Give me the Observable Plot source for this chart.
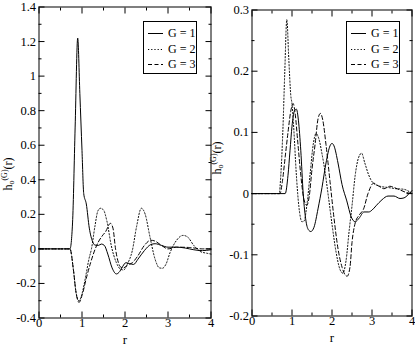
<!DOCTYPE html>
<html><head><meta charset="utf-8">
<script src="https://cdn.jsdelivr.net/npm/d3@7"></script>
<script src="https://cdn.jsdelivr.net/npm/@observablehq/plot@0.6"></script>
<style>
body{margin:0;background:#fff;font-family:"Liberation Serif",serif;}
#wrap{position:relative;width:415px;height:346px;overflow:hidden;background:#fff;}
.panel{position:absolute;top:0;}
.ylab{position:absolute;font-size:12px;white-space:nowrap;transform-origin:center center;transform:translate(-50%,-50%) rotate(-90deg);line-height:1;}
.ylab sub{font-size:8px;vertical-align:-2px;}
.ylab sup{font-size:8px;vertical-align:5px;}
.legend{position:absolute;border:1px solid #000;background:#fff;box-sizing:border-box;font-size:12px;}
.legend .row{position:absolute;left:0;height:14px;}
.legend svg{position:absolute;left:4px;top:0;}
.legend span{position:absolute;left:24px;top:0;line-height:14px;white-space:nowrap;}
</style></head><body><div id="wrap"></div>
<script>
// ---------- data ----------
const seriesNames = ["G = 1", "G = 2", "G = 3"];
const seriesDash = ["none", "1.2,2", "4,2.5"];

// left panel
const leftR1 = [0,0.5,0.72,0.78,0.84,0.9,0.95,1.0,1.04,1.1,1.17,1.25,1.3,1.38,1.45,1.52,1.6,1.7,1.8,1.88,1.95,2.02,2.1,2.2,2.3,2.45,2.6,2.7,2.85,3.0,3.2,3.4,3.6,3.8,4.0];
const leftH1 = [0,0,0,0.15,0.7,1.22,0.9,0.57,0.32,0.26,0.12,0.04,0.022,0.02,0.028,0.02,-0.03,-0.11,-0.145,-0.13,-0.1,-0.08,-0.085,-0.09,-0.06,-0.01,0.025,0.03,0.02,0.01,0.01,0.005,-0.005,-0.01,-0.005];
const leftR2 = [0,0.5,0.72,0.8,0.86,0.93,1.0,1.1,1.16,1.22,1.3,1.37,1.43,1.5,1.58,1.68,1.8,1.9,1.97,2.05,2.17,2.27,2.38,2.47,2.58,2.7,2.8,2.87,2.95,3.05,3.2,3.35,3.45,3.6,3.75,3.9,4.0];
const leftH2 = [0,0,0,-0.12,-0.25,-0.3,-0.26,-0.14,-0.06,0.0,0.13,0.22,0.235,0.225,0.16,0.02,-0.08,-0.118,-0.122,-0.09,-0.01,0.13,0.235,0.2,0.07,-0.06,-0.11,-0.112,-0.09,-0.02,0.05,0.078,0.07,0.02,-0.015,-0.025,-0.03];
const leftR3 = [0,0.5,0.72,0.8,0.86,0.93,1.0,1.1,1.2,1.3,1.38,1.47,1.55,1.66,1.72,1.78,1.9,1.97,2.05,2.17,2.3,2.45,2.6,2.7,2.85,3.0,3.2,3.5,3.8,4.0];
const leftH3 = [0,0,0,-0.12,-0.25,-0.31,-0.27,-0.17,-0.08,-0.005,0.04,0.075,0.1,0.148,0.12,0.0,-0.105,-0.11,-0.095,-0.08,-0.04,0.02,0.05,0.045,0.02,0.0,0.01,0.008,0.0,0.0];

// right panel
const rightR1 = [0,0.5,0.83,0.9,0.95,1.0,1.06,1.11,1.16,1.22,1.28,1.35,1.42,1.47,1.55,1.65,1.75,1.85,1.95,2.0,2.05,2.15,2.25,2.37,2.48,2.58,2.68,2.8,2.92,3.0,3.1,3.25,3.4,3.55,3.7,3.8,3.9,4.0];
const rightH1 = [0,0,0,0.03,0.07,0.11,0.135,0.138,0.12,0.07,0.0,-0.045,-0.06,-0.062,-0.055,-0.025,0.01,0.05,0.078,0.082,0.078,0.05,0.015,-0.012,-0.038,-0.046,-0.04,-0.03,-0.03,-0.027,-0.02,-0.01,-0.004,-0.004,-0.008,-0.007,-0.002,0.005];
const rightR2 = [0,0.5,0.68,0.72,0.77,0.82,0.87,0.92,0.97,1.0,1.05,1.1,1.17,1.25,1.3,1.37,1.45,1.53,1.6,1.67,1.75,1.83,1.9,2.0,2.1,2.2,2.27,2.35,2.43,2.5,2.58,2.66,2.74,2.82,2.92,3.02,3.2,3.4,3.6,3.8,4.0];
const rightH2 = [0,0,0,0.03,0.1,0.2,0.284,0.22,0.16,0.147,0.1,0.04,-0.02,-0.046,-0.045,-0.02,0.03,0.08,0.098,0.09,0.065,0.034,0.0,-0.05,-0.095,-0.124,-0.13,-0.11,-0.06,-0.02,0.03,0.058,0.066,0.05,0.03,0.018,0.012,0.01,0.008,0.007,0.0];
const rightR3 = [0,0.5,0.7,0.76,0.83,0.9,0.97,1.03,1.08,1.15,1.22,1.3,1.37,1.43,1.5,1.58,1.65,1.71,1.77,1.85,1.95,2.05,2.15,2.25,2.33,2.38,2.45,2.5,2.58,2.68,2.79,2.9,3.04,3.15,3.3,3.45,3.55,3.7,3.85,4.0];
const rightH3 = [0,0,0,0.02,0.06,0.1,0.135,0.147,0.13,0.08,0.03,-0.01,-0.019,-0.005,0.04,0.082,0.122,0.131,0.12,0.08,0.02,-0.04,-0.09,-0.12,-0.133,-0.135,-0.12,-0.08,-0.048,-0.035,-0.025,0.0,0.017,0.013,0.008,0.012,0.01,0.006,0.002,0.0];

// ticks
const xMajor = [0,1,2,3,4];
const xMinor = [0.5,1.5,2.5,3.5];
const leftYMajor = [-0.4,-0.2,0,0.2,0.4,0.6,0.8,1,1.2,1.4];
const leftYMinor = [-0.3,-0.1,0.1,0.3,0.5,0.7,0.9,1.1,1.3];
const rightYMajor = [-0.2,-0.1,0,0.1,0.2,0.3];
const rightYMinor = [-0.15,-0.05,0.05,0.15,0.25];
const xLabel = "r";

function fmt(d){ return String(+d.toFixed(2)); }

function panel(o){
  const series = [[o.r1,o.h1],[o.r2,o.h2],[o.r3,o.h3]];
  const lines = series.map(([R,H],k)=>Plot.line(R.map((r,i)=>({r, h:H[i]})),
      {x:"r", y:"h", stroke:"#000", strokeWidth:1, strokeDasharray: seriesDash[k] === "none" ? undefined : seriesDash[k], curve:"monotone-x"}));
  const blank = ()=>"";
  return Plot.plot({
    width:o.width, height:346,
    marginLeft:o.ml, marginRight:o.mr, marginTop:o.mt, marginBottom:o.mb,
    style:{fontFamily:"Liberation Serif, serif", fontSize:"12.5px", background:"transparent", overflow:"visible", color:"#000"},
    x:{domain:[0,4]},
    y:{domain:o.yDomain},
    marks:[
      ...lines,
      // labels
      Plot.axisX({anchor:"bottom", ticks:xMajor, tickSize:0, tickPadding:0, tickFormat:fmt, label:null}),
      Plot.axisY({anchor:"left", ticks:o.yMajor, tickSize:0, tickPadding:3, tickFormat:fmt, label:null}),
      // inward ticks on all sides
      Plot.axisX({anchor:"bottom", ticks:xMajor, tickSize:-6, tickFormat:blank, label:null}),
      Plot.axisX({anchor:"bottom", ticks:xMinor, tickSize:-3, tickFormat:blank, label:null}),
      Plot.axisX({anchor:"top", ticks:xMajor, tickSize:-6, tickFormat:blank, label:null}),
      Plot.axisX({anchor:"top", ticks:xMinor, tickSize:-3, tickFormat:blank, label:null}),
      Plot.axisY({anchor:"left", ticks:o.yMajor, tickSize:-6, tickFormat:blank, label:null}),
      Plot.axisY({anchor:"left", ticks:o.yMinor, tickSize:-3, tickFormat:blank, label:null}),
      Plot.axisY({anchor:"right", ticks:o.yMajor, tickSize:-6, tickFormat:blank, label:null}),
      Plot.axisY({anchor:"right", ticks:o.yMinor, tickSize:-3, tickFormat:blank, label:null}),
      Plot.frame({stroke:"#000", strokeWidth:1}),
      Plot.text([xLabel], {frameAnchor:"bottom", dy:22, text:d=>d, fontSize:13, lineAnchor:"middle"})
    ]
  });
}

const wrap = document.getElementById("wrap");

const left = panel({width:212, ml:38.5, mr:1.5, mt:6.5, mb:28.5, yDomain:[-0.4,1.4],
  yMajor:leftYMajor, yMinor:leftYMinor,
  r1:leftR1,h1:leftH1,r2:leftR2,h2:leftH2,r3:leftR3,h3:leftH3});
left.classList.add("panel"); left.style.left="0px";
wrap.appendChild(left);

const right = panel({width:203, ml:39.5, mr:3.5, mt:9.5, mb:30.5, yDomain:[-0.2,0.3],
  yMajor:rightYMajor, yMinor:rightYMinor,
  r1:rightR1,h1:rightH1,r2:rightR2,h2:rightH2,r3:rightR3,h3:rightH3});
right.classList.add("panel"); right.style.left="212px";
wrap.appendChild(right);

function ylab(x,y){
  const d=document.createElement("div");
  d.className="ylab"; d.style.left=x+"px"; d.style.top=y+"px";
  d.innerHTML="h<sub>o</sub><sup>(G)</sup>(r)";
  wrap.appendChild(d);
}
ylab(8,174); ylab(217,158);

function legend(x,y){
  const box=document.createElement("div");
  box.className="legend";
  box.style.left=x+"px"; box.style.top=y+"px"; box.style.width="54px"; box.style.height="53px";
  seriesNames.forEach((name,k)=>{
    const row=document.createElement("div");
    row.className="row"; row.style.top=(4+k*15.5)+"px"; row.style.width="52px";
    const ns="http://www.w3.org/2000/svg";
    const s=document.createElementNS(ns,"svg"); s.setAttribute("width","15"); s.setAttribute("height","14");
    const l=document.createElementNS(ns,"line");
    l.setAttribute("x1","0"); l.setAttribute("x2","15"); l.setAttribute("y1","7.5"); l.setAttribute("y2","7.5");
    l.setAttribute("stroke","#000"); l.setAttribute("stroke-width","1");
    if(seriesDash[k]!=="none") l.setAttribute("stroke-dasharray",seriesDash[k]);
    s.appendChild(l); row.appendChild(s);
    const t=document.createElement("span"); t.textContent=name; row.appendChild(t);
    box.appendChild(row);
  });
  wrap.appendChild(box);
}
legend(143,21);
legend(346,21);
</script></body></html>
